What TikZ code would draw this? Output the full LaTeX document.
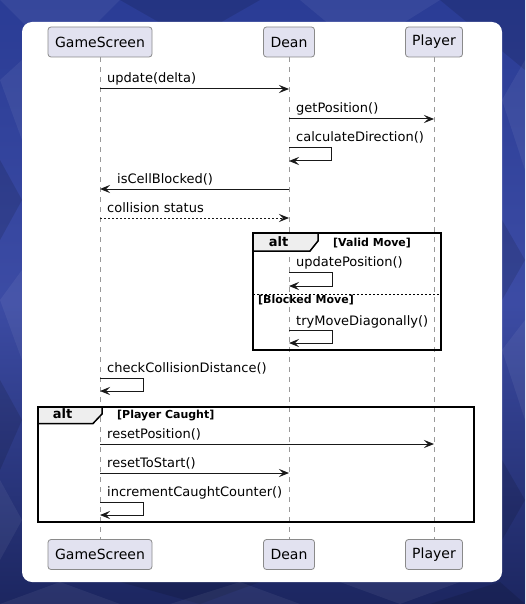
\documentclass[tikz,border=0pt]{standalone}
\usepackage{fontspec}
\setmainfont{DejaVu Sans}
\usetikzlibrary{arrows.meta}
\definecolor{bgA}{HTML}{2A3C95}
\definecolor{bgB}{HTML}{1C2660}
\definecolor{partfill}{HTML}{E2E2F0}
\definecolor{partdraw}{HTML}{8A8A8A}
\definecolor{tabfill}{HTML}{EEEEEE}
\begin{document}
\begin{tikzpicture}[x=1pt,y=-1pt,
  part/.style={draw=partdraw,fill=partfill,rounded corners=3pt,line width=0.8pt,
    minimum height=30pt,inner sep=0pt,font=\fontsize{14}{16}\selectfont},
  life/.style={draw=gray!80,dash pattern=on 5pt off 5pt,line width=0.8pt},
  msg/.style={draw=black!90,line width=1pt,-{Stealth[length=10pt,width=8pt,inset=4pt]}},
  ret/.style={msg,dash pattern=on 2pt off 2pt},
  mtext/.style={anchor=base west,inner sep=0pt,font=\fontsize{13}{15}\selectfont},
  frame/.style={draw=black,line width=1.5pt},
  tab/.style={draw=black,line width=1.5pt,fill=tabfill},
  alttext/.style={anchor=base,inner sep=0pt,font=\bfseries\fontsize{13}{15}\selectfont},
  guard/.style={anchor=base west,inner sep=0pt,font=\bfseries\fontsize{11}{13}\selectfont},
  tri/.style={fill=white,fill opacity=0.06,draw=none},
  trid/.style={fill=black,fill opacity=0.12,draw=none}]
\useasboundingbox (0,0) rectangle (525,604);
% background
\shade[top color=bgA,bottom color=bgB,middle color=bgA!90!white!95!blue] (0,0) rectangle (525,604);
\fill[tri] (0,0) -- (120,0) -- (60,60) -- cycle;
\fill[trid] (120,0) -- (260,0) -- (190,40) -- cycle;
\fill[tri] (300,0) -- (440,0) -- (360,50) -- cycle;
\fill[trid] (440,0) -- (525,0) -- (525,70) -- cycle;
\fill[tri] (0,80) -- (22,60) -- (22,140) -- cycle;
\fill[trid] (0,160) -- (22,200) -- (0,240) -- cycle;
\fill[tri] (0,300) -- (22,270) -- (22,360) -- cycle;
\fill[trid] (0,380) -- (22,420) -- (0,470) -- cycle;
\fill[tri] (0,480) -- (22,520) -- (0,560) -- cycle;
\fill[tri] (502,100) -- (525,60) -- (525,170) -- cycle;
\fill[trid] (502,220) -- (525,260) -- (502,300) -- cycle;
\fill[tri] (502,350) -- (525,320) -- (525,420) -- cycle;
\fill[trid] (502,460) -- (525,500) -- (502,540) -- cycle;
\fill[tri] (0,604) -- (60,582) -- (120,604) -- cycle;
\fill[trid] (120,582) -- (200,604) -- (260,582) -- cycle;
\fill[tri] (170,604) -- (240,582) -- (300,604) -- cycle;
\fill[tri] (340,582) -- (400,604) -- (460,582) -- cycle;
\fill[trid] (430,604) -- (500,582) -- (525,604) -- cycle;
% panel
\fill[white,rounded corners=10pt] (22,22) rectangle (502,582);
% participants
\node[part,minimum width=104pt] (gsT) at (100,42) {GameScreen};
\node[part,minimum width=51pt] (deT) at (289,42) {Dean};
\node[part,minimum width=57pt] (plT) at (434,42) {Player};
\node[part,minimum width=104pt] (gsB) at (100,554.5) {GameScreen};
\node[part,minimum width=51pt] (deB) at (289,554.5) {Dean};
\node[part,minimum width=57pt] (plB) at (434,554.5) {Player};
\draw[life] (gsT.south) -- (gsB.north);
\draw[life] (deT.south) -- (deB.north);
\draw[life] (plT.south) -- (plB.north);
% messages
\node[mtext] (m1) at (107,83) {update(delta)};
\draw[msg] (gsT |- 0,89) -- (deT |- 0,89);
\node[mtext] (m2) at (296,113) {getPosition()};
\draw[msg] (deT |- 0,119) -- (plT |- 0,119);
\node[mtext] (m3) at (296,142) {calculateDirection()};
\draw[msg] (deT |- 0,148) -- (331,148) -- (331,161) -- (deT |- 0,161);
\node[mtext] (m4) at (117,183) {isCellBlocked()};
\draw[msg] (deT |- 0,189) -- (gsT |- 0,189);
\node[mtext] (m5) at (107,212) {collision status};
\draw[ret] (gsT |- 0,218) -- (deT |- 0,218);
% alt 1
\draw[frame] (253,233) rectangle (441,350);
\draw[tab] (253,233) -- (318,233) -- (318,241) -- (310,251) -- (253,251) -- cycle;
\node[alttext] (a1) at (278.5,246) {alt};
\node[guard] (g1) at (333,246) {[Valid Move]};
\node[mtext] (m6) at (296,266) {updatePosition()};
\draw[msg] (deT |- 0,272) -- (332,272) -- (332,286) -- (deT |- 0,286);
\draw[black,line width=0.8pt,dash pattern=on 2pt off 2pt] (253,294) -- (441,294);
\node[guard] (g2) at (258,303) {[Blocked Move]};
\node[mtext] (m7) at (296,325) {tryMoveDiagonally()};
\draw[msg] (deT |- 0,330) -- (332,330) -- (332,343) -- (deT |- 0,343);
% self GameScreen
\node[mtext] (m8) at (107,372) {checkCollisionDistance()};
\draw[msg] (gsT |- 0,378) -- (143,378) -- (143,391) -- (gsT |- 0,391);
% alt 2
\draw[frame] (38,407) rectangle (474,522);
\draw[tab] (38,407) -- (102,407) -- (102,414) -- (93,423.5) -- (38,423.5) -- cycle;
\node[alttext] (a2) at (62.5,418.5) {alt};
\node[guard] (g3) at (117,418.5) {[Player Caught]};
\node[mtext] (m9) at (107,438) {resetPosition()};
\draw[msg] (gsT |- 0,444) -- (plT |- 0,444);
\node[mtext] (m10) at (107,467) {resetToStart()};
\draw[msg] (gsT |- 0,473) -- (deT |- 0,473);
\node[mtext] (m11) at (107,496) {incrementCaughtCounter()};
\draw[msg] (gsT |- 0,502) -- (143,502) -- (143,515) -- (gsT |- 0,515);
\end{tikzpicture}
\end{document}
